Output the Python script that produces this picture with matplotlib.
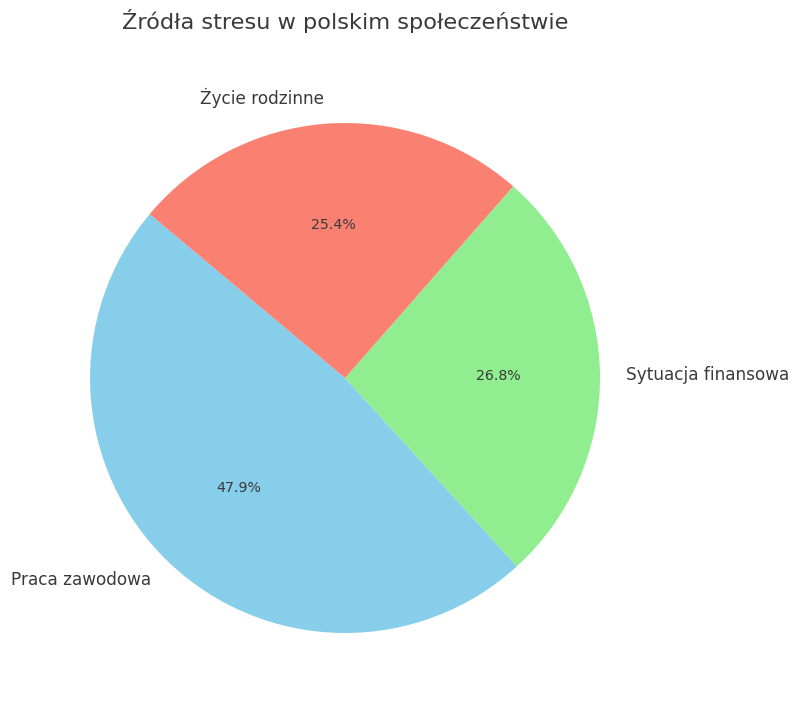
import matplotlib
matplotlib.use('Agg')
import matplotlib.pyplot as plt

# Dane
labels = ['Praca zawodowa', 'Sytuacja finansowa', 'Życie rodzinne']
values = [34, 19, 18]
colors = ['skyblue', 'lightgreen', 'salmon']

plt.rcParams['text.color'] = '#3a3a3a'

fig = plt.figure(figsize=(8, 7.08), dpi=100)
ax = fig.add_axes([0.0328, 0.0159, 0.797, 0.9004])
ax.pie(values, labels=labels, colors=colors, autopct='%1.1f%%', startangle=140,
       textprops={'fontsize': 12.2})
for t in ax.texts:
    if t.get_text().endswith('%'):
        t.set_fontsize(10.2)
ax.set_aspect('equal')
fig.text(0.4313, 0.97, 'Źródła stresu w polskim społeczeństwie', fontsize=16.2,
         ha='center', va='center')

fig.savefig('out.png', dpi=100)
